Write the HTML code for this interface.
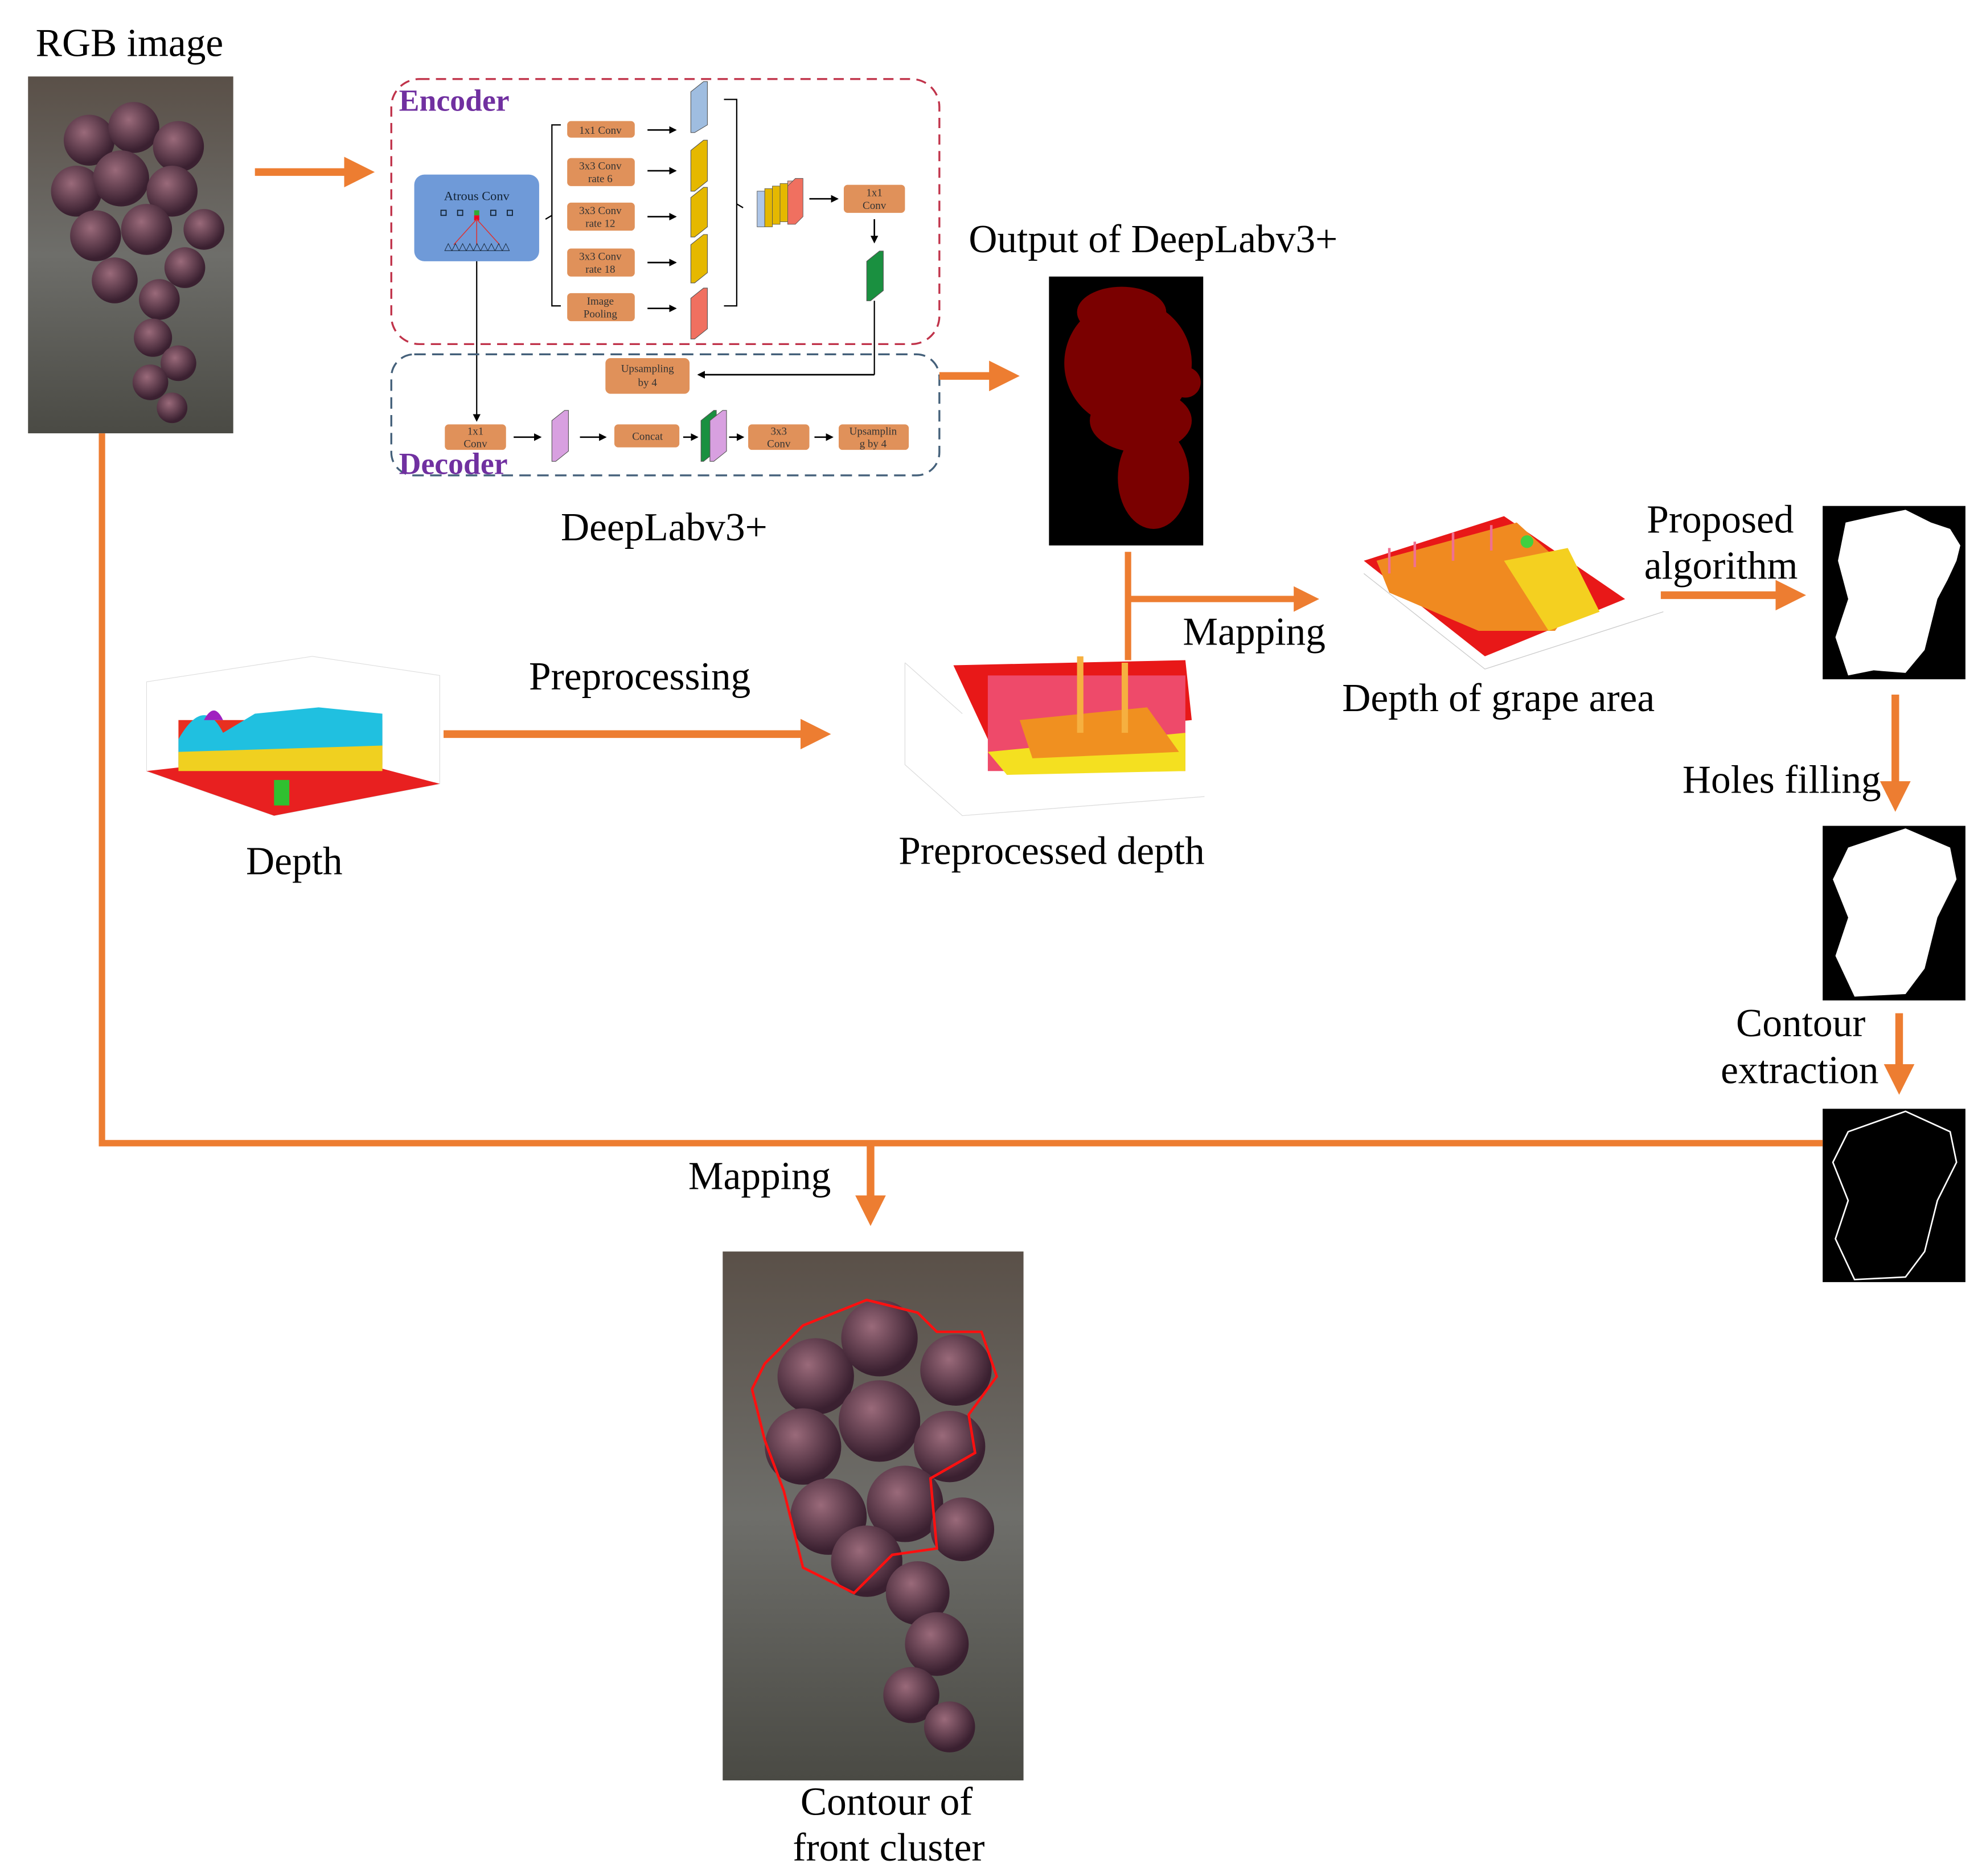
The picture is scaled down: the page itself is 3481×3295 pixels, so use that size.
<!DOCTYPE html>
<html><head><meta charset="utf-8"><style>
html,body{margin:0;padding:0;background:#fff;}
svg{display:block;}
text{font-family:"Liberation Serif",serif;}
</style></head><body>
<svg width="3481" height="3295" viewBox="0 0 1555 1472" preserveAspectRatio="none" xmlns="http://www.w3.org/2000/svg">
<defs>
<marker id="oa" markerWidth="4" markerHeight="4" refX="2" refY="2" orient="auto" markerUnits="strokeWidth"><path d="M0,0 L4,2 L0,4 z" fill="#ED7D31"/></marker>
<marker id="ka" markerWidth="6" markerHeight="6" refX="5" refY="3" orient="auto" markerUnits="userSpaceOnUse"><path d="M0,0 L6,3 L0,6 z" fill="#000"/></marker>
<radialGradient id="gr" cx="0.4" cy="0.35" r="0.6"><stop offset="0" stop-color="#9a6a7a"/><stop offset="1" stop-color="#3a2030"/></radialGradient>
<linearGradient id="bg1" x1="0" y1="0" x2="0" y2="1"><stop offset="0" stop-color="#5a5048"/><stop offset="0.5" stop-color="#6e6e6a"/><stop offset="1" stop-color="#4a4a44"/></linearGradient>
</defs>

<text x="28" y="44" font-size="31">RGB image</text>
<rect x="22" y="60" width="161" height="280" fill="url(#bg1)"/>
<g fill="url(#gr)">
<circle cx="70" cy="110" r="20"/><circle cx="105" cy="100" r="20"/><circle cx="140" cy="115" r="20"/><circle cx="60" cy="150" r="20"/><circle cx="95" cy="140" r="22"/><circle cx="135" cy="150" r="20"/><circle cx="160" cy="180" r="16"/>
<circle cx="75" cy="185" r="20"/><circle cx="115" cy="180" r="20"/><circle cx="145" cy="210" r="16"/><circle cx="90" cy="220" r="18"/><circle cx="125" cy="235" r="16"/><circle cx="120" cy="265" r="15"/><circle cx="140" cy="285" r="14"/><circle cx="118" cy="300" r="14"/><circle cx="135" cy="320" r="12"/>
</g>
<line x1="200" y1="135" x2="282" y2="135" stroke="#ED7D31" stroke-width="6" marker-end="url(#oa)"/>

<rect x="307" y="62" width="430" height="208" rx="22" fill="none" stroke="#c0334a" stroke-width="1.5" stroke-dasharray="8,5"/>
<text x="313" y="87" font-size="24" font-weight="bold" fill="#7030A0">Encoder</text>
<rect x="325" y="137" width="98" height="68" rx="8" fill="#6f9ad8"/>
<text x="374" y="157" font-size="10" text-anchor="middle" fill="#123">Atrous Conv</text>
<g fill="none" stroke="#123" stroke-width="0.8"><rect x="346" y="165" width="4" height="4"/><rect x="359" y="165" width="4" height="4"/><rect x="385" y="165" width="4" height="4"/><rect x="398" y="165" width="4" height="4"/></g>
<rect x="372" y="165" width="4" height="4" fill="#3a3"/><rect x="372" y="169" width="4" height="4" fill="#e02"/>
<path d="M374,172 L356,192 M374,172 L392,192 M374,172 L374,192" stroke="#d33" stroke-width="0.7"/>
<text x="374" y="196" font-size="8" text-anchor="middle" fill="#123" letter-spacing="-0.5">△△△△△△△△△</text>
<line x1="374" y1="205" x2="374" y2="330" stroke="#000" stroke-width="1" marker-end="url(#ka)"/>
<path d="M440,98 L433,98 L433,240 L440,240 M433,169 L428,172" fill="none" stroke="#000" stroke-width="1"/>
<g fill="#E0915A">
<rect x="445" y="95" width="53" height="13" rx="3"/><rect x="445" y="124" width="53" height="22" rx="3"/><rect x="445" y="159" width="53" height="22" rx="3"/><rect x="445" y="195" width="53" height="22" rx="3"/><rect x="445" y="230" width="53" height="22" rx="3"/>
<rect x="662" y="145" width="48" height="22" rx="3"/>
</g>
<g font-size="8.5" text-anchor="middle" fill="#333">
<text x="471" y="105">1x1 Conv</text><text x="471" y="133">3x3 Conv</text><text x="471" y="143">rate 6</text><text x="471" y="168">3x3 Conv</text><text x="471" y="178">rate 12</text><text x="471" y="204">3x3 Conv</text><text x="471" y="214">rate 18</text><text x="471" y="239">Image</text><text x="471" y="249">Pooling</text><text x="686" y="154">1x1</text><text x="686" y="164">Conv</text>
</g>
<g stroke="#000" stroke-width="1.2" marker-end="url(#ka)"><line x1="508" y1="102" x2="530" y2="102"/><line x1="508" y1="134" x2="530" y2="134"/><line x1="508" y1="170" x2="530" y2="170"/><line x1="508" y1="206" x2="530" y2="206"/><line x1="508" y1="242" x2="530" y2="242"/><line x1="635" y1="156" x2="657" y2="156"/><line x1="686" y1="172" x2="686" y2="190"/></g>
<g stroke="#555" stroke-width="0.5">
<polygon points="542,72 552,64 555,64 555,98 545,104 542,104" fill="#9fbde0"/>
<polygon points="542,118 552,110 555,110 555,142 545,150 542,150" fill="#e5b800"/>
<polygon points="542,155 552,147 555,147 555,178 545,186 542,186" fill="#e5b800"/>
<polygon points="542,192 552,184 555,184 555,214 545,222 542,222" fill="#e5b800"/>
<polygon points="542,234 552,226 555,226 555,258 545,266 542,266" fill="#f07060"/>
<polygon points="680,205 690,197 693,197 693,228 683,236 680,236" fill="#1a9040"/>
</g>
<path d="M568,78 L578,78 L578,240 L568,240 M578,160 L583,163" fill="none" stroke="#000" stroke-width="1"/>
<g stroke="#555" stroke-width="0.4">
<rect x="594" y="150" width="6" height="28" fill="#aec6e8"/><rect x="600" y="148" width="6" height="30" fill="#e5b800"/><rect x="606" y="146" width="6" height="30" fill="#e5b800"/><rect x="612" y="144" width="6" height="30" fill="#e5b800"/><rect x="618" y="142" width="6" height="30" fill="#f4a090"/><polygon points="618,146 624,140 630,140 630,170 624,176 618,176" fill="#f07060"/>
</g>
<line x1="686" y1="236" x2="686" y2="294" stroke="#000" stroke-width="1"/>
<line x1="686" y1="294" x2="548" y2="294" stroke="#000" stroke-width="1.2" marker-end="url(#ka)"/>

<rect x="307" y="278" width="430" height="95" rx="18" fill="none" stroke="#44607a" stroke-width="1.5" stroke-dasharray="9,5"/>
<g fill="#E0915A"><rect x="475" y="281" width="66" height="28" rx="4"/><rect x="349" y="333" width="48" height="20" rx="3"/><rect x="482" y="333" width="51" height="18" rx="3"/><rect x="587" y="333" width="48" height="20" rx="3"/><rect x="658" y="333" width="55" height="20" rx="3"/></g>
<g font-size="8.5" text-anchor="middle" fill="#333"><text x="508" y="292">Upsampling</text><text x="508" y="303">by 4</text><text x="373" y="341">1x1</text><text x="373" y="351">Conv</text><text x="508" y="345">Concat</text><text x="611" y="341">3x3</text><text x="611" y="351">Conv</text><text x="685" y="341">Upsamplin</text><text x="685" y="351">g by 4</text></g>
<g stroke="#000" stroke-width="1.2" marker-end="url(#ka)"><line x1="403" y1="343" x2="424" y2="343"/><line x1="455" y1="343" x2="475" y2="343"/><line x1="536" y1="343" x2="547" y2="343"/><line x1="572" y1="343" x2="583" y2="343"/><line x1="639" y1="343" x2="653" y2="343"/></g>
<g stroke="#555" stroke-width="0.5"><polygon points="433,330 443,322 446,322 446,354 436,362 433,362" fill="#d8a0e0"/>
<polygon points="550,330 560,322 562,322 562,354 552,362 550,362" fill="#1a9040"/><polygon points="557,330 567,322 570,322 570,354 560,362 557,362" fill="#d8a0e0"/></g>
<text x="313" y="372" font-size="24" font-weight="bold" fill="#7030A0">Decoder</text>
<text x="440" y="424" font-size="31">DeepLabv3+</text>
<line x1="737" y1="295" x2="788" y2="295" stroke="#ED7D31" stroke-width="6" marker-end="url(#oa)"/>

<text x="760" y="198" font-size="31">Output of DeepLabv3+</text>
<rect x="823" y="217" width="121" height="211" fill="#000"/>
<g fill="#7a0000"><ellipse cx="885" cy="285" rx="50" ry="50"/><ellipse cx="880" cy="245" rx="35" ry="20"/><ellipse cx="895" cy="330" rx="40" ry="25"/><ellipse cx="905" cy="375" rx="28" ry="40"/><circle cx="930" cy="300" r="12"/></g>

<line x1="885" y1="433" x2="885" y2="518" stroke="#ED7D31" stroke-width="5"/>
<line x1="885" y1="470" x2="1025" y2="470" stroke="#ED7D31" stroke-width="5" marker-end="url(#oa)"/>
<text x="928" y="506" font-size="31">Mapping</text>

<g stroke="#ddd" stroke-width="0.5" fill="none"><polygon points="115,535 245,515 345,530 345,615 215,640 115,605"/></g>
<polygon points="115,605 215,640 345,615 250,590" fill="#e82020"/>
<rect x="140" y="565" width="160" height="40" fill="#e83020"/>
<path d="M140,580 Q160,545 175,575 L200,560 L250,555 L300,560 L300,600 L140,600 Z" fill="#20c0e0"/>
<path d="M140,590 L300,585 L300,605 L140,605 Z" fill="#f0d020"/>
<path d="M160,565 q8,-15 15,0 z" fill="#a020c0"/>
<rect x="215" y="612" width="12" height="20" fill="#30c030"/>
<text x="193" y="686" font-size="31">Depth</text>
<text x="415" y="541" font-size="31">Preprocessing</text>
<line x1="348" y1="576" x2="640" y2="576" stroke="#ED7D31" stroke-width="6" marker-end="url(#oa)"/>

<g stroke="#ddd" stroke-width="0.6" fill="none"><polyline points="710,520 710,600 755,640 945,625"/><line x1="710" y1="520" x2="755" y2="560"/></g>
<polygon points="748,522 930,518 935,565 775,580" fill="#e81818"/>
<rect x="775" y="530" width="155" height="75" fill="#ee4a6a"/>
<path d="M775,590 L930,575 L930,605 L790,608 Z" fill="#f4e020"/>
<path d="M800,565 L900,555 L925,590 L810,595 Z" fill="#f09020"/>
<g fill="#f6b040"><rect x="845" y="515" width="5" height="60"/><rect x="880" y="520" width="5" height="55"/></g>
<text x="705" y="678" font-size="31">Preprocessed depth</text>

<polygon points="1070,440 1180,405 1275,470 1165,515" fill="#e81818"/>
<path d="M1080,440 L1190,410 L1245,460 L1220,495 L1160,495 L1090,465 Z" fill="#f08a20"/>
<path d="M1180,440 L1230,430 L1255,480 L1215,495 Z" fill="#f4d020"/>
<g stroke="#f07090" stroke-width="2"><line x1="1090" y1="430" x2="1090" y2="450"/><line x1="1110" y1="425" x2="1110" y2="445"/><line x1="1140" y1="418" x2="1140" y2="440"/><line x1="1170" y1="412" x2="1170" y2="432"/></g>
<circle cx="1198" cy="425" r="5" fill="#40d040"/>
<g stroke="#ccc" stroke-width="0.6" fill="none"><polyline points="1070,450 1165,525 1305,480"/></g>
<text x="1053" y="558" font-size="31">Depth of grape area</text>
<line x1="1303" y1="467" x2="1405" y2="467" stroke="#ED7D31" stroke-width="6" marker-end="url(#oa)"/>
<text x="1292" y="418" font-size="31">Proposed</text>
<text x="1290" y="454" font-size="31">algorithm</text>

<rect x="1430" y="397" width="112" height="136" fill="#000"/>
<path d="M1448,410 L1470,405 L1495,400 L1515,410 L1530,415 L1538,428 L1535,440 L1528,455 L1520,470 L1515,490 L1510,510 L1495,528 L1470,526 L1450,530 L1440,500 L1450,470 L1442,440 Z" fill="#fff"/>
<line x1="1487" y1="545" x2="1487" y2="625" stroke="#ED7D31" stroke-width="6" marker-end="url(#oa)"/>
<text x="1320" y="622" font-size="31">Holes filling</text>
<rect x="1430" y="648" width="112" height="137" fill="#000"/>
<path d="M1450,665 L1495,650 L1530,665 L1535,690 L1520,720 L1510,760 L1495,780 L1455,782 L1440,750 L1450,720 L1438,690 Z" fill="#fff"/>
<text x="1362" y="813" font-size="31">Contour</text>
<text x="1350" y="850" font-size="31">extraction</text>
<line x1="1490" y1="795" x2="1490" y2="847" stroke="#ED7D31" stroke-width="6" marker-end="url(#oa)"/>
<rect x="1430" y="870" width="112" height="136" fill="#000"/>
<path d="M1450,888 L1495,872 L1530,888 L1535,912 L1520,942 L1510,982 L1495,1002 L1455,1004 L1440,972 L1450,942 L1438,912 Z" fill="none" stroke="#fff" stroke-width="1.2"/>

<polyline points="80,340 80,897 1430,897" fill="none" stroke="#ED7D31" stroke-width="5"/>
<line x1="683" y1="897" x2="683" y2="950" stroke="#ED7D31" stroke-width="6" marker-end="url(#oa)"/>
<text x="540" y="933" font-size="31">Mapping</text>

<rect x="567" y="982" width="236" height="415" fill="url(#bg1)"/>
<g fill="url(#gr)">
<circle cx="640" cy="1080" r="30"/><circle cx="690" cy="1050" r="30"/><circle cx="750" cy="1075" r="28"/><circle cx="630" cy="1135" r="30"/><circle cx="690" cy="1115" r="32"/><circle cx="745" cy="1135" r="28"/><circle cx="650" cy="1190" r="30"/><circle cx="710" cy="1180" r="30"/><circle cx="680" cy="1225" r="28"/><circle cx="720" cy="1250" r="25"/><circle cx="755" cy="1200" r="25"/><circle cx="735" cy="1290" r="25"/><circle cx="715" cy="1330" r="22"/><circle cx="745" cy="1355" r="20"/>
</g>
<path d="M600,1070 L630,1040 L680,1020 L720,1030 L735,1045 L770,1045 L782,1080 L760,1110 L765,1140 L730,1160 L735,1215 L700,1220 L670,1250 L630,1230 L615,1170 L600,1130 L590,1090 Z" fill="none" stroke="#ff1010" stroke-width="2"/>
<text x="628" y="1424" font-size="31">Contour of</text>
<text x="622" y="1460" font-size="31">front cluster</text>
</svg>
</body></html>
